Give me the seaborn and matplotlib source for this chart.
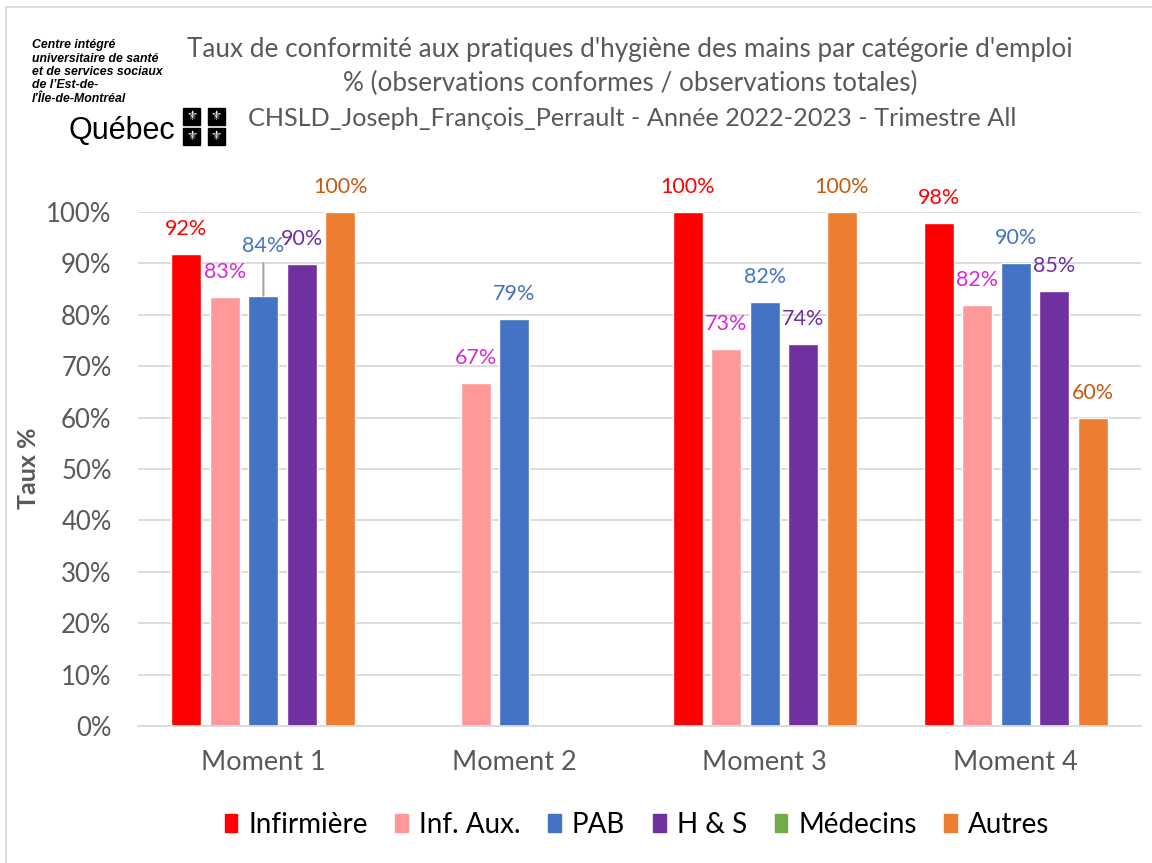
import matplotlib
matplotlib.use("Agg")
import matplotlib.pyplot as plt
import seaborn as sns
import pandas as pd
import numpy as np
from matplotlib.patches import Rectangle

# ---------------- data ----------------
moments = ["Moment 1", "Moment 2", "Moment 3", "Moment 4"]
series = ["Infirmière", "Inf. Aux.", "PAB", "H & S", "Médecins", "Autres"]
infirmiere = [91.8, np.nan, 100.0, 97.8]
inf_aux = [83.4, 66.7, 73.3, 81.9]
pab = [83.7, 79.2, 82.4, 90.1]
h_s = [89.9, np.nan, 74.4, 84.6]
medecins = [np.nan, np.nan, np.nan, np.nan]
autres = [100.0, np.nan, 100.0, 60.0]
y_ticks = [0, 10, 20, 30, 40, 50, 60, 70, 80, 90, 100]

title_lines = [
    "Taux de conformité aux pratiques d'hygiène des mains par catégorie d'emploi",
    "% (observations conformes / observations totales)",
    "CHSLD_Joseph_François_Perrault - Année 2022-2023 - Trimestre All",
]
logo_lines = ["Centre intégré", "universitaire de santé", "et de services sociaux",
              "de l’Est-de-", "l’Île-de-Montréal"]

bar_colors = ["#FF0000", "#FF9999", "#4472C4", "#7030A0", "#70AD47", "#ED7D31"]
label_colors = ["#FF0000", "#D62AD6", "#4472C4", "#7030A0", "#70AD47", "#C55A11"]

values = [infirmiere, inf_aux, pab, h_s, medecins, autres]
rows = []
for s, vals in zip(series, values):
    for m, v in zip(moments, vals):
        rows.append({"Moment": m, "Catégorie": s, "Taux": v})
df = pd.DataFrame(rows)
present = [s for s, vals in zip(series, values) if not np.all(np.isnan(vals))]
df_bars = df.dropna(subset=["Taux"])
pal = {s: c for s, c in zip(series, bar_colors)}
lab_col = {s: c for s, c in zip(series, label_colors)}

# ---------------- figure ----------------
sns.set_theme(style="white")
plt.rcParams["font.family"] = ["Lato", "DejaVu Sans"]

fig = plt.figure(figsize=(11.52, 8.63), dpi=100)
ax = fig.add_axes([138 / 1152, 1 - 726 / 863, (1141 - 138) / 1152, (726 - 212) / 863])

sns.barplot(data=df_bars, x="Moment", y="Taux", hue="Catégorie", order=moments,
            hue_order=present, palette=pal, width=0.768, gap=0.22, ax=ax,
            legend=False, saturation=1, errorbar=None)

ax.set_xlim(-0.5, 3.5)
ax.set_ylim(0, 100)
ax.set_yticks(y_ticks)
ax.set_yticklabels([f"{t}%" for t in y_ticks])
ax.yaxis.grid(True, color="#D9D9D9", lw=1.3)
ax.set_axisbelow(True)
for sp in ["left", "right", "top"]:
    ax.spines[sp].set_visible(False)
ax.spines["bottom"].set_color("#D9D9D9")
ax.spines["bottom"].set_linewidth(1.3)
ax.tick_params(axis="y", length=0, pad=19, labelsize=18.5, labelcolor="#595959")
ax.tick_params(axis="x", length=0, pad=17, labelsize=19.5, labelcolor="#595959")
ax.set_xlabel("")
ax.set_ylabel("")

# data labels
for s, cont in zip(present, ax.containers):
    for bar in cont:
        h = bar.get_height()
        if np.isnan(h):
            continue
        cx = bar.get_x() + bar.get_width() / 2
        cat = int(round(cx))
        txt = f"{int(round(h))}%"
        if s == "PAB" and cat == 0:
            ax.annotate(txt, xy=(cx, h), xytext=(0, 36), textcoords="offset points",
                        ha="center", va="center", fontsize=15.5, color=lab_col[s],
                        annotation_clip=False,
                        arrowprops=dict(arrowstyle="-", color="#A6A6A6", lw=1.5,
                                        shrinkA=3, shrinkB=0))
        else:
            ax.annotate(txt, xy=(cx, h), xytext=(0, 18), textcoords="offset points",
                        ha="center", va="center", fontsize=15.5, color=lab_col[s],
                        annotation_clip=False)

# y label
fig.text(28 / 1152, 1 - 468 / 863, "Taux %", rotation=90, ha="center", va="center",
         fontsize=18, fontweight="bold", color="#595959")

# titles
for line, yy, fs, xc in zip(title_lines, [50, 83, 118], [18.8, 18.8, 18.2], [630, 630, 632]):
    fig.text(xc / 1152, 1 - yy / 863, line, ha="center", va="center",
             fontsize=fs, color="#595959")

# legend
handles = [Rectangle((0, 0), 1, 1, color=c) for c in bar_colors]
fig.legend(handles, series, loc="center", bbox_to_anchor=(637 / 1152, 1 - 825 / 863),
           ncol=6, frameon=False, fontsize=20, handlelength=0.45, handleheight=0.6,
           handletextpad=0.4, columnspacing=1.0, labelcolor="#000000")

# logo
for i, line in enumerate(logo_lines):
    fig.text(32 / 1152, 1 - (45 + 13.5 * i) / 863, line, ha="left", va="center",
             fontsize=8.8, fontweight="bold", fontstyle="italic", color="black",
             family=["Liberation Sans", "DejaVu Sans"])
fig.text(69 / 1152, 1 - 131 / 863, "Québec", ha="left", va="center", fontsize=22,
         color="black", family=["Liberation Sans", "DejaVu Sans"])
for (x0, y0) in [(183, 108), (208, 108), (183, 128), (208, 128)]:
    fig.patches.append(Rectangle((x0 / 1152, 1 - (y0 + 17) / 863), 17 / 1152, 17 / 863,
                                 transform=fig.transFigure, color="black", zorder=5))
    fig.text((x0 + 8.5) / 1152, 1 - (y0 + 8.5) / 863, "⚜", ha="center", va="center",
             fontsize=9, color="white", family=["DejaVu Sans"], zorder=6)

# chart-area border (partially cropped)
fig.patches.append(Rectangle((6 / 1152, -0.05), 1.2, 1 - 7 / 863 + 0.05,
                             transform=fig.transFigure, fill=False,
                             edgecolor="#D9D9D9", lw=1.3))

fig.savefig("out.png", dpi=100)
